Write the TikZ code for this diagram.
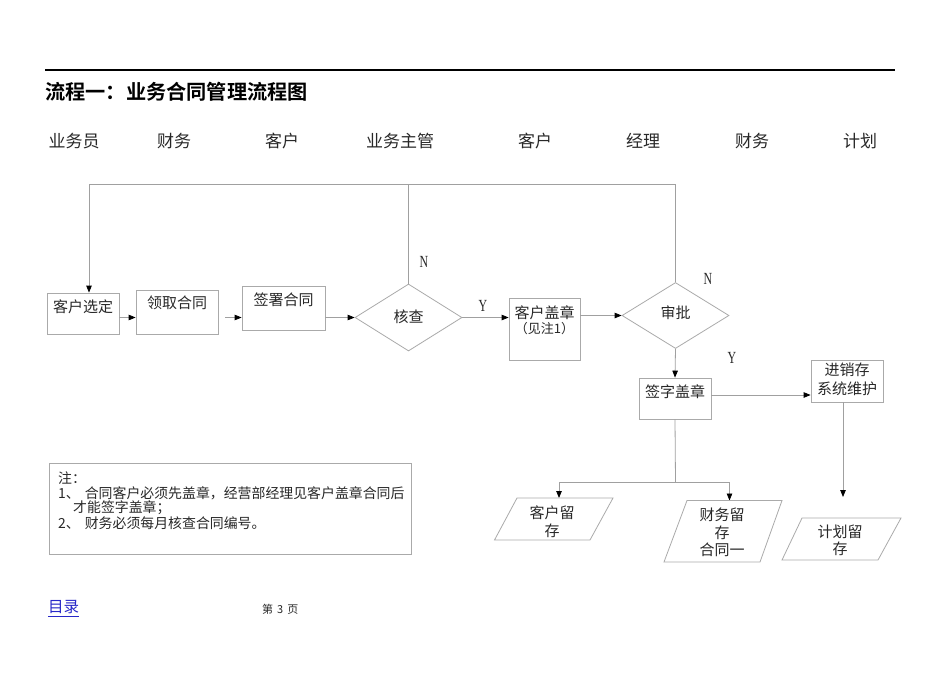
\documentclass[tikz,border=0pt]{standalone}
\usepackage{fontspec}
\setmainfont{Liberation Serif}
\newfontfamily\cjk{Noto Sans CJK SC}[BoldFont={Noto Sans CJK SC Bold}]
\usetikzlibrary{arrows.meta,shapes.geometric}
\definecolor{lg}{RGB}{160,160,160}
\definecolor{bg}{RGB}{170,170,170}
\definecolor{tx}{RGB}{40,40,40}
\definecolor{linkblue}{RGB}{40,40,200}
\begin{document}
\begin{tikzpicture}[x=1pt,y=-1pt,
  line/.style={draw=lg, line width=0.8pt},
  arr/.style={line, -{Triangle[length=7pt,width=5.5pt,color=black,fill=black]}},
  box/.style={draw=bg, line width=0.8pt, inner sep=0pt},
  dia/.style={diamond, draw=bg, line width=0.8pt, inner sep=0pt, minimum width=107pt},
  txt/.style={inner sep=0pt, text=tx, font=\cjk\fontsize{15}{17.5}\selectfont, align=center},
  hdr/.style={inner sep=0pt, text=tx, font=\cjk\fontsize{17}{19}\selectfont},
  note/.style={inner sep=0pt, anchor=west, text=tx, font=\cjk\fontsize{13.9}{15}\selectfont},
  yn/.style={inner sep=0pt, text=tx, font=\fontsize{17}{17}\selectfont}
]
\useasboundingbox (0,0) rectangle (950,672);
\fill[white] (0,0) rectangle (950,672);

% top rule and title
\draw[line width=1.1pt] (45,70) -- (895,70);
\node[inner sep=0pt, anchor=west, font=\cjk\bfseries\fontsize{20.2}{22}\selectfont] (title) at (45,92) {流程一：业务合同管理流程图};

% lane headers
\node[hdr] (h1) at (74,141) {业务员};
\node[hdr] (h2) at (174,141) {财务};
\node[hdr] (h3) at (282,141) {客户};
\node[hdr] (h4) at (400,141) {业务主管};
\node[hdr] (h5) at (535,141) {客户};
\node[hdr] (h6) at (643,141) {经理};
\node[hdr] (h7) at (752,141) {财务};
\node[hdr] (h8) at (860,141) {计划};

% boxes
\node[box, minimum width=72pt, minimum height=41pt] (b1) at (83,313.5) {};
\node[txt] (t1) at (83,307) {客户选定};
\node[box, minimum width=82pt, minimum height=44pt] (b2) at (177,312) {};
\node[txt] (t2) at (177,303) {领取合同};
\node[box, minimum width=83pt, minimum height=44pt] (b3) at (283.5,308) {};
\node[txt] (t3) at (283.5,300) {签署合同};
\node[dia, minimum height=67pt] (d1) at (408.5,317.5) {};
\node[txt] (td1) at (408.5,317) {核查};
\node[box, minimum width=71pt, minimum height=62pt] (b4) at (544.5,329) {};
\node[txt] (t4) at (544.5,313) {客户盖章};
\node[txt, font=\cjk\fontsize{13}{15}\selectfont] (t4b) at (544.5,329) {（见注1）};
\node[dia, minimum height=66pt] (d2) at (675.5,315.5) {};
\node[txt] (td2) at (675.5,313) {审批};
\node[box, minimum width=72pt, minimum height=41pt] (b5) at (675,398.5) {};
\node[txt] (t5) at (675,392) {签字盖章};
\node[box, minimum width=72pt, minimum height=42pt] (b6) at (847,381) {};
\node[txt, font=\cjk\fontsize{15}{19}\selectfont] (t6) at (847,379.5) {进销存\\系统维护};

% feedback loop
\coordinate (fl) at (89,184);
\coordinate (fm) at (408.5,184);
\coordinate (fr) at (675.5,184);
\draw[line] (d1.north) -- (fm);
\draw[line] (d2.north) -- (fr) -- (fl);
\draw[arr] (fl) -- (b1.north -| fl);

% main flow
\draw[arr] (b1.east |- d1.west) -- (b2.west |- d1.west);
\draw[arr] ([xshift=7pt]b2.east |- d1.west) -- (b3.west |- d1.west);
\draw[arr] (b3.east |- d1.west) -- (d1.west);
\draw[arr] (d1.east) -- (b4.west |- d1.east);
\draw[arr] (b4.east |- d2.west) -- (d2.west);
\draw[arr] (d2.south) -- (b5.north);
\coordinate (ry) at (0,395);
\draw[arr] (b5.east |- ry) -- (b6.west |- ry);

% Y / N labels
\node[yn] (n1) at (424,262) {\scalebox{0.7}[1]{N}};
\node[yn] (n2) at (708,279) {\scalebox{0.7}[1]{N}};
\node[yn] (y1) at (483,306) {\scalebox{0.7}[1]{Y}};
\node[yn] (y2) at (732,358) {\scalebox{0.7}[1]{Y}};

% distribution
\coordinate (j) at (675.5,482);
\coordinate (a1) at (559,498);
\coordinate (a2) at (729.5,500.5);
\coordinate (a3) at (843,497);
\draw[line] (b5.south) -- (j);
\draw[arr] (j) -| (a1);
\draw[arr] (j) -| (a2);
\draw[arr] (a3 |- b6.south) -- (a3);

% parallelograms
\draw[draw=bg, line width=0.8pt] (494.5,540) -- (517,498) -- (613,498) -- (590,540) -- cycle;
\node[txt] (p1) at (552,521.5) {客户留\\存};
\draw[draw=bg, line width=0.8pt] (664,562) -- (687,500.5) -- (782,500.5) -- (760,562) -- cycle;
\node[txt] (p2) at (722,532.5) {财务留\\存\\合同一};
\draw[draw=bg, line width=0.8pt] (782,560) -- (802,518) -- (901,518) -- (878,560) -- cycle;
\node[txt] (p3) at (840,540.5) {计划留\\存};

% note box
\node[box, minimum width=362pt, minimum height=91pt] (nb) at (230,508.5) {};
\node[note] (n0) at (58,478) {注：};
\node[note] (nl1) at (58,493) {1、\hspace{5pt}合同客户必须先盖章，经营部经理见客户盖章合同后};
\node[note] (nl2) at (73,508) {才能签字盖章；};
\node[note] (nl3) at (58,523) {2、\hspace{5pt}财务必须每月核查合同编号。};

% footer
\node[inner sep=0pt, anchor=west, text=linkblue, font=\cjk\fontsize{15.5}{17}\selectfont] (toc) at (48,607) {目录};
\draw[linkblue, line width=0.7pt] (48,616) -- (79,616);
\node[inner sep=0pt, anchor=west, text=tx, font=\cjk\fontsize{11}{13}\selectfont] (pg) at (262,609) {第\hspace{4pt}3\hspace{4pt}页};
\end{tikzpicture}
\end{document}
